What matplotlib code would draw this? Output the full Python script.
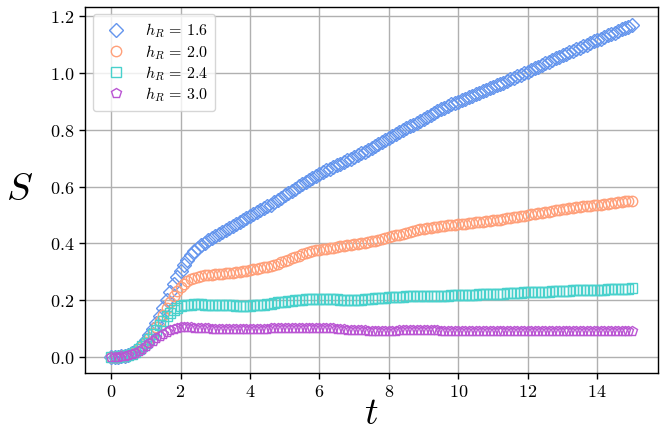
import numpy as np
import matplotlib
matplotlib.use("Agg")
import matplotlib.pyplot as plt
from matplotlib.ticker import FuncFormatter

plt.rcParams['mathtext.fontset'] = 'cm'
plt.rcParams['font.family'] = ['DejaVu Serif']

t = np.round(np.arange(151) * 0.1, 1)

labels = [r"$h_R\,=\,1.6$", r"$h_R\,=\,2.0$", r"$h_R\,=\,2.4$", r"$h_R\,=\,3.0$"]

S_16 = [
    0.000, 0.000, 0.001, 0.002, 0.004, 0.007, 0.012, 0.020, 0.030, 0.043,
    0.058, 0.076, 0.097, 0.120, 0.145, 0.172, 0.200, 0.228, 0.255, 0.280,
    0.303, 0.324, 0.342, 0.358, 0.372, 0.384, 0.394, 0.403, 0.411, 0.418,
    0.425, 0.432, 0.439, 0.446, 0.453, 0.460, 0.467, 0.474, 0.481, 0.488,
    0.495, 0.502, 0.509, 0.516, 0.523, 0.530, 0.537, 0.545, 0.553, 0.561,
    0.569, 0.577, 0.585, 0.593, 0.601, 0.609, 0.617, 0.625, 0.632, 0.639,
    0.645, 0.651, 0.657, 0.663, 0.669, 0.675, 0.681, 0.687, 0.693, 0.699,
    0.705, 0.711, 0.717, 0.723, 0.729, 0.735, 0.742, 0.749, 0.756, 0.763,
    0.770, 0.777, 0.784, 0.791, 0.798, 0.805, 0.812, 0.819, 0.826, 0.833,
    0.840, 0.847, 0.854, 0.860, 0.866, 0.872, 0.878, 0.884, 0.890, 0.895,
    0.900, 0.905, 0.910, 0.915, 0.920, 0.926, 0.931, 0.936, 0.941, 0.947,
    0.952, 0.957, 0.962, 0.967, 0.972, 0.978, 0.983, 0.989, 0.994, 1.000,
    1.005, 1.011, 1.017, 1.023, 1.029, 1.035, 1.041, 1.046, 1.052, 1.057,
    1.063, 1.068, 1.074, 1.079, 1.085, 1.090, 1.095, 1.101, 1.106, 1.112,
    1.117, 1.122, 1.128, 1.133, 1.138, 1.143, 1.149, 1.154, 1.159, 1.164,
    1.170,
]

S_20 = [
    0.000, 0.000, 0.001, 0.002, 0.004, 0.007, 0.011, 0.018, 0.027, 0.038,
    0.051, 0.066, 0.084, 0.104, 0.126, 0.149, 0.172, 0.194, 0.214, 0.231,
    0.245, 0.257, 0.266, 0.273, 0.278, 0.282, 0.285, 0.287, 0.289, 0.290,
    0.291, 0.292, 0.293, 0.294, 0.295, 0.296, 0.298, 0.300, 0.302, 0.304,
    0.306, 0.308, 0.310, 0.312, 0.315, 0.318, 0.321, 0.325, 0.329, 0.333,
    0.337, 0.342, 0.347, 0.352, 0.357, 0.361, 0.365, 0.369, 0.372, 0.375,
    0.377, 0.379, 0.381, 0.383, 0.385, 0.387, 0.389, 0.391, 0.393, 0.395,
    0.397, 0.399, 0.401, 0.403, 0.405, 0.407, 0.410, 0.413, 0.416, 0.419,
    0.422, 0.425, 0.428, 0.431, 0.434, 0.437, 0.440, 0.443, 0.446, 0.449,
    0.451, 0.453, 0.455, 0.457, 0.459, 0.461, 0.462, 0.464, 0.465, 0.466,
    0.467, 0.468, 0.470, 0.471, 0.472, 0.474, 0.475, 0.477, 0.478, 0.480,
    0.481, 0.483, 0.484, 0.486, 0.488, 0.490, 0.492, 0.494, 0.496, 0.498,
    0.500, 0.502, 0.504, 0.506, 0.508, 0.510, 0.512, 0.514, 0.516, 0.518,
    0.520, 0.522, 0.523, 0.525, 0.527, 0.528, 0.530, 0.531, 0.533, 0.534,
    0.536, 0.537, 0.539, 0.540, 0.542, 0.543, 0.545, 0.546, 0.548, 0.549,
    0.551,
]

S_24 = [
    0.000, 0.000, 0.001, 0.002, 0.004, 0.007, 0.011, 0.018, 0.027, 0.038,
    0.050, 0.064, 0.080, 0.096, 0.112, 0.128, 0.143, 0.156, 0.166, 0.173,
    0.178, 0.181, 0.183, 0.184, 0.185, 0.185, 0.185, 0.184, 0.184, 0.183,
    0.183, 0.182, 0.182, 0.181, 0.181, 0.181, 0.180, 0.180, 0.180, 0.180,
    0.180, 0.181, 0.182, 0.183, 0.184, 0.186, 0.188, 0.190, 0.192, 0.193,
    0.195, 0.197, 0.198, 0.200, 0.201, 0.202, 0.203, 0.204, 0.204, 0.204,
    0.204, 0.204, 0.204, 0.204, 0.203, 0.203, 0.202, 0.202, 0.201, 0.201,
    0.201, 0.201, 0.202, 0.203, 0.204, 0.205, 0.206, 0.207, 0.208, 0.209,
    0.210, 0.211, 0.211, 0.212, 0.212, 0.213, 0.213, 0.214, 0.214, 0.214,
    0.215, 0.215, 0.215, 0.215, 0.216, 0.216, 0.216, 0.216, 0.217, 0.217,
    0.217, 0.217, 0.218, 0.218, 0.219, 0.219, 0.220, 0.220, 0.221, 0.221,
    0.222, 0.222, 0.223, 0.223, 0.224, 0.224, 0.225, 0.226, 0.226, 0.227,
    0.227, 0.228, 0.228, 0.229, 0.229, 0.230, 0.230, 0.231, 0.231, 0.232,
    0.232, 0.233, 0.233, 0.234, 0.234, 0.235, 0.235, 0.235, 0.236, 0.236,
    0.237, 0.237, 0.237, 0.238, 0.238, 0.239, 0.239, 0.239, 0.240, 0.240,
    0.241,
]

S_30 = [
    0.000, 0.000, 0.001, 0.002, 0.003, 0.005, 0.009, 0.014, 0.021, 0.029,
    0.038, 0.047, 0.056, 0.065, 0.073, 0.080, 0.087, 0.093, 0.098, 0.102,
    0.104, 0.105, 0.105, 0.104, 0.103, 0.102, 0.101, 0.100, 0.100, 0.099,
    0.099, 0.099, 0.099, 0.098, 0.098, 0.098, 0.098, 0.098, 0.098, 0.098,
    0.098, 0.098, 0.099, 0.099, 0.099, 0.099, 0.100, 0.100, 0.100, 0.100,
    0.101, 0.101, 0.102, 0.102, 0.102, 0.103, 0.103, 0.103, 0.103, 0.103,
    0.103, 0.102, 0.102, 0.101, 0.100, 0.099, 0.098, 0.097, 0.096, 0.095,
    0.094, 0.094, 0.093, 0.093, 0.092, 0.092, 0.092, 0.092, 0.092, 0.092,
    0.092, 0.092, 0.092, 0.093, 0.093, 0.093, 0.093, 0.093, 0.093, 0.093,
    0.093, 0.093, 0.093, 0.093, 0.093, 0.092, 0.092, 0.092, 0.092, 0.092,
    0.092, 0.092, 0.091, 0.091, 0.091, 0.091, 0.091, 0.091, 0.091, 0.091,
    0.091, 0.091, 0.090, 0.090, 0.090, 0.090, 0.090, 0.090, 0.090, 0.090,
    0.090, 0.090, 0.090, 0.090, 0.090, 0.090, 0.090, 0.090, 0.090, 0.090,
    0.090, 0.090, 0.090, 0.090, 0.091, 0.091, 0.091, 0.091, 0.091, 0.091,
    0.091, 0.091, 0.091, 0.091, 0.091, 0.091, 0.091, 0.091, 0.091, 0.091,
    0.091,
]

series = [S_16, S_20, S_24, S_30]
colors = ["#6495ED", "#FFA07A", "#48D1CC", "#BA55D3"]
markers = ["D", "o", "s", "p"]
msizes = [7, 7.5, 7, 7.5]

xticks = [0, 2, 4, 6, 8, 10, 12, 14]
yticks = [0.0, 0.2, 0.4, 0.6, 0.8, 1.0, 1.2]

fig = plt.figure(figsize=(6.66, 4.33), dpi=100)
ax = fig.add_axes([85 / 666, 1 - 373 / 433, (658 - 85) / 666, (373 - 6.5) / 433])

for ys, c, m, ms, lab in zip(series, colors, markers, msizes, labels):
    ax.plot(t, ys, linestyle="none", marker=m, markersize=ms,
            markerfacecolor="none", markeredgecolor=c, markeredgewidth=1.0,
            label=lab)

ax.set_xlim(-0.75, 15.75)
ax.set_ylim(-0.057, 1.235)
ax.set_xticks(xticks)
ax.set_yticks(yticks)
ax.xaxis.set_major_formatter(FuncFormatter(lambda v, p: r"$%d$" % round(v)))
ax.yaxis.set_major_formatter(FuncFormatter(lambda v, p: r"$%.1f$" % v))
ax.tick_params(labelsize=13, length=4, width=1, colors="black")
ax.grid(True, color="#b0b0b0", linewidth=1.0)
ax.set_axisbelow(True)
for sp in ax.spines.values():
    sp.set_linewidth(1.0)

ax.set_xlabel(r"$t$", fontsize=27, labelpad=-4)
ax.set_ylabel(r"$S$", fontsize=28, rotation=0, labelpad=22, va="center")

leg = ax.legend(loc="upper left", fontsize=11.5, frameon=True, framealpha=0.8,
                borderpad=0.45, handlelength=2.0, handletextpad=0.8,
                labelspacing=0.15, borderaxespad=0.5)

fig.savefig("out.png", dpi=100)
